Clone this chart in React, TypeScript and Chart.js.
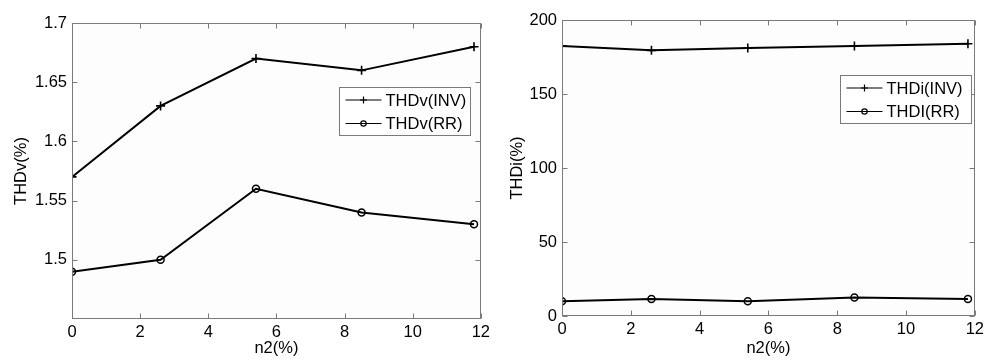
import React, { useEffect, useRef } from 'react';
import { Chart, registerables } from 'chart.js';

Chart.register(...registerables);

// ---- data ----
const nValues = [0, 2.6, 5.4, 8.5, 11.8];
const thdvInv = [1.57, 1.63, 1.67, 1.66, 1.68];
const thdvRR = [1.49, 1.5, 1.56, 1.54, 1.53];
const thdiInv = [182.5, 179.5, 181, 182.5, 184];
const thdiRR = [10, 11.5, 10, 12.5, 11.5];
const xTicks = [0, 2, 4, 6, 8, 10, 12];
const vTicks = [1.5, 1.55, 1.6, 1.65, 1.7];
const iTicks = [0, 50, 100, 150, 200];

const FONT = "Arial, 'Liberation Sans', Helvetica, sans-serif";
const AXIS_GRAY = '#7a7a7a';

type PanelCfg = {
  inv: number[];
  rr: number[];
  invLabel: string;
  rrLabel: string;
  yTitle: string;
  yMin: number;
  yMax: number;
  yTicks: number[];
  yWidth: number;
  xHeight: number;
  padTop: number;
  padRight: number;
  yTitlePad: number;
  legendRight: number;
  legendTop: number;
};

function framePlugin(cfg: PanelCfg) {
  return {
    id: 'matlabFrame',
    beforeDraw(chart: any) {
      const ctx = chart.ctx;
      ctx.save();
      ctx.fillStyle = '#ffffff';
      ctx.fillRect(0, 0, chart.width, chart.height);
      const a = chart.chartArea;
      ctx.fillStyle = '#fdfdfd';
      ctx.fillRect(a.left, a.top, a.right - a.left, a.bottom - a.top);
      ctx.restore();
    },
    afterDraw(chart: any) {
      const ctx = chart.ctx;
      const a = chart.chartArea;
      const xs = chart.scales.x;
      const ys = chart.scales.y;
      const L = Math.round(a.left) + 0.5;
      const R = Math.round(a.right) - 0.5;
      const T = Math.round(a.top) + 0.5;
      const B = Math.round(a.bottom) - 0.5;
      ctx.save();
      ctx.strokeStyle = AXIS_GRAY;
      ctx.lineWidth = 1;
      ctx.strokeRect(L, T, R - L, B - T);
      const tl = 5;
      ctx.beginPath();
      xTicks.forEach((v) => {
        const px = Math.round(xs.getPixelForValue(v)) + 0.5;
        ctx.moveTo(px, B);
        ctx.lineTo(px, B - tl);
        ctx.moveTo(px, T);
        ctx.lineTo(px, T + tl);
      });
      cfg.yTicks.forEach((v) => {
        const py = Math.round(ys.getPixelForValue(v)) + 0.5;
        ctx.moveTo(L, py);
        ctx.lineTo(L + tl, py);
        ctx.moveTo(R, py);
        ctx.lineTo(R - tl, py);
      });
      ctx.stroke();

      // legend
      const bw = 131;
      const bh = 48;
      const bx = Math.round(a.right - cfg.legendRight - bw) + 0.5;
      const by = Math.round(a.top + cfg.legendTop) + 0.5;
      ctx.fillStyle = '#ffffff';
      ctx.fillRect(bx, by, bw, bh);
      ctx.strokeStyle = AXIS_GRAY;
      ctx.strokeRect(bx, by, bw, bh);
      const rows = [
        { label: cfg.invLabel, style: 'cross', y: by + 12.5 },
        { label: cfg.rrLabel, style: 'circle', y: by + 36 },
      ];
      rows.forEach((r) => {
        ctx.strokeStyle = '#000';
        ctx.lineWidth = 1.2;
        ctx.beginPath();
        ctx.moveTo(bx + 6, r.y);
        ctx.lineTo(bx + 42, r.y);
        ctx.stroke();
        const mx = bx + 24;
        ctx.beginPath();
        if (r.style === 'cross') {
          ctx.moveTo(mx, r.y - 3.5);
          ctx.lineTo(mx, r.y + 3.5);
          ctx.moveTo(mx - 3.5, r.y);
          ctx.lineTo(mx + 3.5, r.y);
        } else {
          ctx.arc(mx, r.y, 2.7, 0, Math.PI * 2);
        }
        ctx.stroke();
        ctx.fillStyle = '#000';
        ctx.font = `16.5px ${FONT}`;
        ctx.textAlign = 'left';
        ctx.textBaseline = 'middle';
        ctx.fillText(r.label, bx + 46, r.y + 1);
      });
      ctx.restore();
    },
  };
}

function buildConfig(cfg: PanelCfg): any {
  const toPts = (ys: number[]) => nValues.map((x, i) => ({ x, y: ys[i] }));
  return {
    type: 'line',
    data: {
      datasets: [
        {
          label: cfg.invLabel,
          data: toPts(cfg.inv),
          borderColor: '#000',
          borderWidth: 2,
          pointStyle: 'cross',
          pointRadius: 4.5,
          pointBorderWidth: 1.6,
          pointBorderColor: '#000',
          pointBackgroundColor: 'transparent',
          tension: 0,
        },
        {
          label: cfg.rrLabel,
          data: toPts(cfg.rr),
          borderColor: '#000',
          borderWidth: 2,
          pointStyle: 'circle',
          pointRadius: 3.5,
          pointBorderWidth: 1.5,
          pointBorderColor: '#000',
          pointBackgroundColor: 'transparent',
          tension: 0,
        },
      ],
    },
    options: {
      animation: false,
      responsive: false,
      devicePixelRatio: 1,
      layout: { padding: { top: cfg.padTop, right: cfg.padRight, left: 0, bottom: 0 } },
      plugins: { legend: { display: false }, tooltip: { enabled: false }, title: { display: false } },
      scales: {
        x: {
          type: 'linear',
          min: 0,
          max: 12,
          grid: { display: false, drawTicks: false },
          border: { display: false },
          afterBuildTicks: (s: any) => {
            s.ticks = xTicks.map((v) => ({ value: v }));
          },
          afterFit: (s: any) => {
            s.height = cfg.xHeight;
          },
          ticks: {
            color: '#000',
            padding: 4,
            maxRotation: 0,
            autoSkip: false,
            font: { family: FONT, size: 16.5, lineHeight: 1.2 },
            callback: (v: any) => String(v),
          },
          title: {
            display: true,
            text: 'n2(%)',
            color: '#000',
            font: { family: FONT, size: 16.5, lineHeight: 1.2 },
            padding: { top: 0, bottom: 2 },
          },
        },
        y: {
          type: 'linear',
          min: cfg.yMin,
          max: cfg.yMax,
          grid: { display: false, drawTicks: false },
          border: { display: false },
          afterBuildTicks: (s: any) => {
            s.ticks = cfg.yTicks.map((v) => ({ value: v }));
          },
          afterFit: (s: any) => {
            s.width = cfg.yWidth;
          },
          ticks: {
            color: '#000',
            padding: 5,
            autoSkip: false,
            font: { family: FONT, size: 16.5, lineHeight: 1.2 },
            callback: (v: any) => String(v),
          },
          title: {
            display: true,
            text: cfg.yTitle,
            color: '#000',
            font: { family: FONT, size: 16.5, lineHeight: 1.2 },
            padding: { top: cfg.yTitlePad, bottom: 0 },
          },
        },
      },
    },
    plugins: [framePlugin(cfg)],
  };
}

const leftCfg: PanelCfg = {
  inv: thdvInv,
  rr: thdvRR,
  invLabel: 'THDv(INV)',
  rrLabel: 'THDv(RR)',
  yTitle: 'THDv(%)',
  yMin: 1.45,
  yMax: 1.7,
  yTicks: vTicks,
  yWidth: 72,
  xHeight: 41,
  padTop: 23,
  padRight: 5,
  yTitlePad: 12,
  legendRight: 11,
  legendTop: 64,
};

const rightCfg: PanelCfg = {
  inv: thdiInv,
  rr: thdiRR,
  invLabel: 'THDi(INV)',
  rrLabel: 'THDI(RR)',
  yTitle: 'THDi(%)',
  yMin: 0,
  yMax: 200,
  yTicks: iTicks,
  yWidth: 68,
  xHeight: 44,
  padTop: 20,
  padRight: 7,
  yTitlePad: 13.5,
  legendRight: 4,
  legendTop: 55,
};

function Panel({ cfg, left }: { cfg: PanelCfg; left: number }) {
  const ref = useRef<HTMLCanvasElement | null>(null);
  useEffect(() => {
    if (!ref.current) return;
    const chart = new Chart(ref.current, buildConfig(cfg));
    return () => chart.destroy();
  }, [cfg]);
  return (
    <canvas
      ref={ref}
      width={494}
      height={360}
      style={{ position: 'absolute', left, top: 0, width: 494, height: 360, display: 'block' }}
    />
  );
}

export default function App() {
  return (
    <div
      style={{
        position: 'absolute',
        left: 0,
        top: 0,
        width: 988,
        height: 360,
        background: '#ffffff',
        overflow: 'hidden',
      }}
    >
      <Panel cfg={leftCfg} left={0} />
      <Panel cfg={rightCfg} left={494} />
    </div>
  );
}
